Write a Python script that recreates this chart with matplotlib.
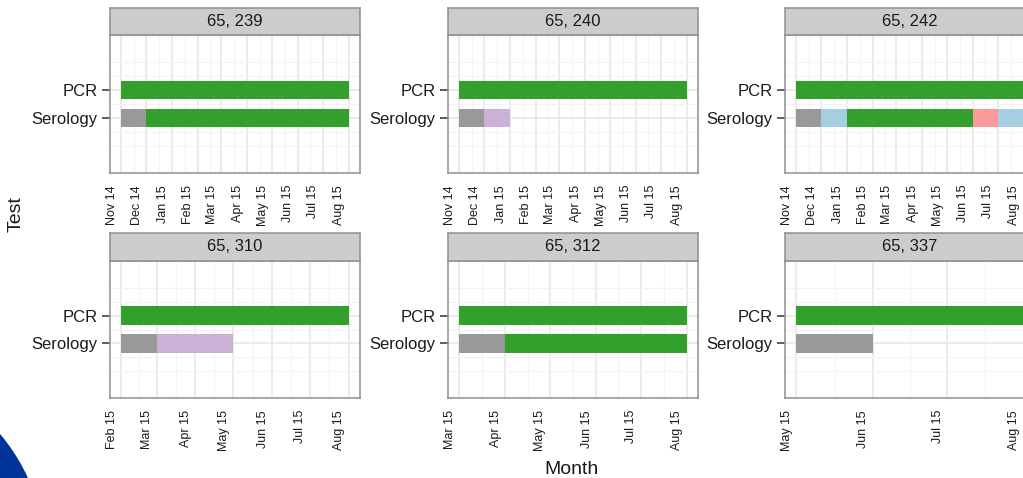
import datetime as dt

import matplotlib
matplotlib.use("Agg")
import matplotlib.pyplot as plt
import matplotlib.dates as mdates
from matplotlib.patches import Circle
from matplotlib.ticker import FixedLocator, NullFormatter
from matplotlib.transforms import ScaledTranslation, blended_transform_factory

plt.rcParams["font.family"] = ["Liberation Sans", "DejaVu Sans"]

# ---------------------------------------------------------------- data
panel_titles = ["65, 239", "65, 240", "65, 242", "65, 310", "65, 312", "65, 337"]

range_start = ["2014-11-01", "2014-11-01", "2014-11-01",
               "2015-02-01", "2015-03-01", "2015-05-01"]
range_end = ["2015-08-01", "2015-08-01", "2015-08-01",
             "2015-08-01", "2015-08-01", "2015-08-01"]

tests = ["Serology", "PCR"]

pcr_segments = [
    [("2014-11-01", "2015-08-01", "green")],
    [("2014-11-01", "2015-08-01", "green")],
    [("2014-11-01", "2015-08-01", "green")],
    [("2015-02-01", "2015-08-01", "green")],
    [("2015-03-01", "2015-08-01", "green")],
    [("2015-05-01", "2015-08-01", "green")],
]

serology_segments = [
    [("2014-11-01", "2014-12-01", "grey"), ("2014-12-01", "2015-08-01", "green")],
    [("2014-11-01", "2014-12-01", "grey"), ("2014-12-01", "2015-01-01", "purple")],
    [("2014-11-01", "2014-12-01", "grey"), ("2014-12-01", "2015-01-01", "blue"),
     ("2015-01-01", "2015-06-01", "green"), ("2015-06-01", "2015-07-01", "pink"),
     ("2015-07-01", "2015-08-01", "blue")],
    [("2015-02-01", "2015-03-01", "grey"), ("2015-03-01", "2015-05-01", "purple")],
    [("2015-03-01", "2015-04-01", "grey"), ("2015-04-01", "2015-08-01", "green")],
    [("2015-05-01", "2015-06-01", "grey")],
]

status_colors = {
    "grey": "#999999",
    "green": "#33A02C",
    "blue": "#A6CEE3",
    "pink": "#FB9A99",
    "purple": "#CAB2D6",
}

# ---------------------------------------------------------------- layout (pixels)
W, H, DPI = 1023, 478, 100
col_left = [110, 448, 785]
panel_w = 250
rows = [  # (strip top, panel top, panel bottom)
    (8, 35, 173),
    (233, 261, 398),
]


def rect(x0, y0, x1, y1):
    return [x0 / W, 1 - y1 / H, (x1 - x0) / W, (y1 - y0) / H]


def d2n(s):
    return mdates.date2num(dt.datetime.strptime(s, "%Y-%m-%d"))


def month_starts(a, b):
    d0 = dt.datetime.strptime(a, "%Y-%m-%d")
    d1 = dt.datetime.strptime(b, "%Y-%m-%d")
    out = []
    y, m = d0.year, d0.month
    while dt.datetime(y, m, 1) <= d1:
        out.append(dt.datetime(y, m, 1))
        m += 1
        if m > 12:
            m, y = 1, y + 1
    return out


fig = plt.figure(figsize=(W / DPI, H / DPI), dpi=DPI)
fig.patch.set_facecolor("white")

border = "#8F8F8F"
bar_h = 0.66
y_pos = {"Serology": 1, "PCR": 2}

for i, title in enumerate(panel_titles):
    r, c = divmod(i, 3)
    s_top, p_top, p_bot = rows[r]
    x0 = col_left[c]

    ax = fig.add_axes(rect(x0, p_top, x0 + panel_w, p_bot))
    sx = fig.add_axes(rect(x0, s_top, x0 + panel_w, p_top))

    # strip
    sx.set_facecolor("#CCCCCC")
    sx.set_xticks([])
    sx.set_yticks([])
    for sp in sx.spines.values():
        sp.set_color(border)
        sp.set_linewidth(1.1)
    sx.text(0.5, 0.5, title, ha="center", va="center", fontsize=12,
            color="#1A1A1A", transform=sx.transAxes)

    # bars
    for test, segs in (("PCR", pcr_segments[i]), ("Serology", serology_segments[i])):
        for a, b, st in segs:
            left = d2n(a)
            ax.barh(y_pos[test], d2n(b) - left, left=left, height=bar_h,
                    color=status_colors[st], edgecolor="none", zorder=3)

    # scales
    lo, hi = d2n(range_start[i]), d2n(range_end[i])
    pad = 0.05 * (hi - lo)
    ax.set_xlim(lo - pad, hi + pad)
    ax.set_ylim(-0.965, 3.965)

    majors = month_starts(range_start[i], range_end[i])
    maj_n = [mdates.date2num(d) for d in majors]
    mids = [(maj_n[k] + maj_n[k + 1]) / 2 for k in range(len(maj_n) - 1)]
    ax.xaxis.set_major_locator(FixedLocator(maj_n))
    ax.xaxis.set_minor_locator(FixedLocator(mids))
    ax.xaxis.set_major_formatter(NullFormatter())
    ax.tick_params(axis="x", which="both", length=0)

    ax.set_yticks([y_pos[t] for t in tests])
    ax.set_yticklabels(tests, fontsize=12, color="#1A1A1A")
    ax.yaxis.set_minor_locator(FixedLocator([0, 0.5, 1.5, 2.5, 3]))
    ax.tick_params(axis="y", which="major", length=5.5, width=1.1,
                   color="#333333", pad=3.5)
    ax.tick_params(axis="y", which="minor", length=0)

    ax.set_axisbelow(True)
    ax.grid(which="major", color="#E6E6E6", linewidth=1.1)
    ax.grid(which="minor", color="#F3F3F3", linewidth=0.8)
    for sp in ax.spines.values():
        sp.set_color(border)
        sp.set_linewidth(1.1)

    # month labels, rotated and set slightly left of their grid line
    tr = blended_transform_factory(ax.transData, ax.transAxes) + \
        ScaledTranslation(-9.5 / DPI, -12 / DPI, fig.dpi_scale_trans)
    for d, n in zip(majors, maj_n):
        ax.text(n, 0, d.strftime("%b %y"), transform=tr, rotation=90,
                ha="center", va="top", fontsize=9, color="#1A1A1A",
                clip_on=False)

fig.text(16 / W, 1 - 214 / H, "Test", rotation=90, ha="center", va="center",
         fontsize=14, color="#1A1A1A")
fig.text(572 / W, 1 - 469 / H, "Month", ha="center", va="center",
         fontsize=14, color="#1A1A1A")

# blue corner disc
fig.add_artist(Circle((-1.50, -0.82), 1.96, transform=fig.dpi_scale_trans,
                      facecolor="#00349A", edgecolor="none", zorder=0))

fig.savefig("out.png", dpi=DPI, facecolor="white")
